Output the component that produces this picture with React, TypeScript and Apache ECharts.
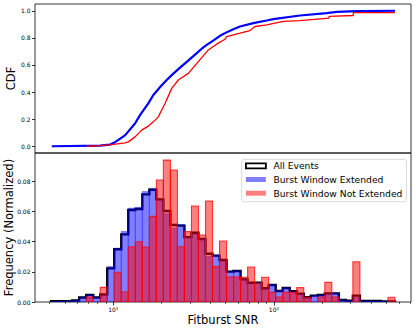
import React, { useEffect, useRef } from 'react';
import * as echarts from 'echarts';

const FONT = 'DejaVu Sans';

// Histogram bin range (log-spaced bins)
const BIN_MIN = 4.1;
const BIN_MAX = 566;

// Normalized frequency per bin
const ALL_EVENTS = [0.0005, 0.0005, 0.0005, 0.0010, 0.0030, 0.0047, 0.0030, 0.0050, 0.0223, 0.0349,
  0.0448, 0.0609, 0.0616, 0.0713, 0.0744, 0.0680, 0.0603, 0.0510, 0.0506, 0.0430,
  0.0459, 0.0417, 0.0320, 0.0307, 0.0278, 0.0201, 0.0205, 0.0150, 0.0128, 0.0128,
  0.0091, 0.0113, 0.0073, 0.0093, 0.0071, 0.0055, 0.0031, 0.0042, 0.0046, 0.0057,
  0.0057, 0.0013, 0.0009, 0.0042, 0.0007, 0.0007, 0.0007, 0.0004, 0.0004];

const EXTENDED = [0.0005, 0.0005, 0.0005, 0.0011, 0.0032, 0.0048, 0.0032, 0.0048, 0.0235, 0.0357,
  0.0468, 0.0622, 0.0627, 0.0732, 0.0753, 0.0673, 0.0585, 0.0491, 0.0513, 0.0428,
  0.0450, 0.0416, 0.0302, 0.0311, 0.0271, 0.0203, 0.0207, 0.0149, 0.0123, 0.0128,
  0.0087, 0.0116, 0.0075, 0.0095, 0.0071, 0.0053, 0.0031, 0.0044, 0.0047, 0.0053,
  0.0058, 0.0014, 0.0009, 0.0030, 0.0007, 0.0007, 0.0007, 0.0004, 0.0003];

const NOT_EXTENDED = [0, 0, 0, 0, 0, 0.0033, 0, 0.0097, 0, 0.0197,
  0.0066, 0.0366, 0.0399, 0.0364, 0.0567, 0.0808, 0.0940, 0.0874, 0.0366, 0.0466,
  0.0636, 0.0444, 0.0669, 0.0234, 0.0404, 0.0166, 0.0166, 0.0163, 0.0232, 0.0124,
  0.0164, 0.0064, 0.0033, 0.0064, 0.0064, 0.0095, 0.0031, 0, 0.0033, 0.0130,
  0.0033, 0, 0, 0.0267, 0, 0, 0, 0, 0.0031];

// CDF curves (SNR, cumulative fraction)
const CDF_EXT_SNR = [4.14, 8.26, 9.54, 10.25, 11.82, 13.65, 14.66, 16.51, 17.74, 20.01, 21.49, 23.09, 26.01, 27.94,
  31.47, 35.49, 38.13, 40.96, 46.13, 49.56, 55.83, 61.44, 74.35, 90.09, 99, 145.1, 212.8, 245.6, 327.1, 566.2];
const CDF_EXT = [0, 0.004, 0.012, 0.03, 0.08, 0.168, 0.23, 0.316, 0.378, 0.45, 0.489, 0.525, 0.58, 0.612,
  0.665, 0.72, 0.748, 0.772, 0.815, 0.835, 0.864, 0.884, 0.909, 0.928, 0.938, 0.965, 0.983, 0.992, 0.998, 1.0];

const CDF_NOT_SNR = [6.83, 8.26, 9.77, 11.82, 12.4, 13.65, 15.02, 16.51, 17.74, 19.05, 20.98, 23.09, 25.38, 29.29,
  33.81, 39.02, 41.91, 45.02, 49.56, 50.78, 61.44, 70.92, 76.19, 90.09, 114.3, 145.1, 220, 220, 311.5, 311.5, 566.2];
const CDF_NOT = [0, 0.004, 0.012, 0.025, 0.032, 0.069, 0.119, 0.148, 0.18, 0.217, 0.316, 0.427, 0.489, 0.538,
  0.625, 0.711, 0.736, 0.761, 0.79, 0.81, 0.835, 0.854, 0.884, 0.896, 0.921, 0.928, 0.946, 0.958, 0.965, 0.987, 0.987];

// Axes (SNR axis is logarithmic)
const X_MIN = 3.256;
const X_MAX = 712;
const X_MAJOR = [10, 100];
const X_MINOR = [4, 5, 6, 7, 8, 9, 20, 30, 40, 50, 60, 70, 80, 90, 200, 300, 400, 500, 600, 700];
const CDF_TICKS = [0, 0.2, 0.4, 0.6, 0.8, 1.0];
const FREQ_TICKS = [0, 0.02, 0.04, 0.06, 0.08];

const lg = Math.log10;
const N_BINS = ALL_EVENTS.length;
const lmin = lg(BIN_MIN);
const lstep = (lg(BIN_MAX) - lmin) / N_BINS;
// bin edges in log10(SNR) space
const EDGES = Array.from({ length: N_BINS + 1 }, (_, k) => lmin + k * lstep);

const binData = (vals: number[]) =>
  vals.map((v, i) => [EDGES[i], EDGES[i + 1], v]).filter((d) => d[2] > 0);

const barRender = (fill: string, stroke: string, lw: number) => (params: any, api: any) => {
  const x0 = api.value(0);
  const x1 = api.value(1);
  const v = api.value(2);
  const p0 = api.coord([x0, v]);
  const p1 = api.coord([x1, 0]);
  return {
    type: 'rect',
    shape: { x: p0[0], y: p0[1], width: p1[0] - p0[0], height: p1[1] - p0[1] },
    style: { fill, stroke, lineWidth: lw },
  };
};

const stepRender = (params: any, api: any) => {
  const pts: number[][] = [];
  pts.push(api.coord([EDGES[0], 0]));
  for (let i = 0; i < N_BINS; i++) {
    pts.push(api.coord([EDGES[i], ALL_EVENTS[i]]));
    pts.push(api.coord([EDGES[i + 1], ALL_EVENTS[i]]));
  }
  pts.push(api.coord([EDGES[N_BINS], 0]));
  return {
    type: 'polyline',
    shape: { points: pts },
    style: { fill: 'none', stroke: '#000', lineWidth: 2.4, lineJoin: 'miter' },
  };
};

const tickLine = { color: '#000', width: 0.8 };
const labelBase = { fontSize: 6, color: '#000', fontFamily: FONT };

export default function App() {
  const ref = useRef<HTMLDivElement>(null);
  useEffect(() => {
    const chart = echarts.init(ref.current!, null, { renderer: 'svg' });
    const xBase = { type: 'value', min: lg(X_MIN), max: lg(X_MAX), position: 'bottom', splitLine: { show: false }, axisLine: { show: false } };
    const gridBase = { left: 35, width: 376, height: 149, show: true, borderColor: '#000', borderWidth: 0.8, containLabel: false, outerBoundsMode: 'none' };
    const option: any = {
      animation: false,
      textStyle: { fontFamily: FONT },
      grid: [
        { ...gridBase, top: 4 },
        { ...gridBase, top: 153 },
      ],
      xAxis: [
        { ...xBase, gridIndex: 0, axisTick: { show: false }, axisLabel: { show: false } },
        {
          ...xBase, gridIndex: 1,
          name: 'Fitburst SNR', nameLocation: 'middle', nameGap: 12, nameMoveOverlap: false,
          nameTextStyle: { fontSize: 11.5, color: '#000', fontFamily: FONT },
          axisTick: { show: true, length: 3.5, customValues: X_MAJOR.map(lg), lineStyle: tickLine },
          axisLabel: {
            customValues: X_MAJOR.map(lg), margin: 4.5,
            formatter: (v: number) => `{b|10}{s|${Math.round(v)}}`,
            rich: {
              b: { fontSize: 6, color: '#000', fontFamily: FONT },
              s: { fontSize: 4.2, color: '#000', fontFamily: FONT, verticalAlign: 'top' },
            },
          },
        },
        {
          ...xBase, gridIndex: 1,
          axisTick: { show: true, length: 2, customValues: X_MINOR.map(lg), lineStyle: { color: '#000', width: 0.6 } },
          axisLabel: { show: false },
        },
      ],
      yAxis: [
        {
          gridIndex: 0, type: 'value', min: -0.05, max: 1.05,
          name: 'CDF', nameLocation: 'middle', nameGap: 18, nameMoveOverlap: false,
          nameTextStyle: { fontSize: 11.5, color: '#000', fontFamily: FONT },
          axisLine: { show: false },
          axisTick: { show: true, length: 3, customValues: CDF_TICKS, lineStyle: tickLine },
          axisLabel: { ...labelBase, customValues: CDF_TICKS, margin: 4.5, formatter: (v: number) => v.toFixed(1) },
          splitLine: { show: false },
        },
        {
          gridIndex: 1, type: 'value', min: 0, max: 0.0987,
          name: 'Frequency (Normalized)', nameLocation: 'middle', nameGap: 20.5, nameMoveOverlap: false,
          nameTextStyle: { fontSize: 11.5, color: '#000', fontFamily: FONT },
          axisLine: { show: false },
          axisTick: { show: true, length: 3, customValues: FREQ_TICKS, lineStyle: tickLine },
          axisLabel: { ...labelBase, customValues: FREQ_TICKS, margin: 4.5, formatter: (v: number) => v.toFixed(2) },
          splitLine: { show: false },
        },
      ],
      legend: {
        orient: 'vertical', left: 241.7, top: 159.3, padding: [1, 4, 3, 3.3], itemGap: 2.7,
        itemWidth: 20, itemHeight: 5, selectedMode: false,
        backgroundColor: 'rgba(255,255,255,0.85)', borderColor: '#d0d0d0', borderWidth: 0.8, borderRadius: 2,
        textStyle: { fontSize: 9.2, lineHeight: 11, color: '#000', fontFamily: FONT, padding: [0, 0, 0, 2.5] },
        data: [
          { name: 'All Events', icon: 'rect', itemStyle: { color: '#fff', borderColor: '#000', borderWidth: 1.8 } },
          { name: 'Burst Window Extended', icon: 'rect', itemStyle: { color: 'rgba(0,0,255,0.5)', borderWidth: 0 } },
          { name: 'Burst Window Not Extended', icon: 'rect', itemStyle: { color: 'rgba(255,0,0,0.5)', borderWidth: 0 } },
        ],
      },
      series: [
        {
          name: 'All Events', type: 'custom', xAxisIndex: 1, yAxisIndex: 1, clip: true,
          renderItem: stepRender, encode: { x: 0, y: 1 }, data: [[EDGES[0], 0]],
          itemStyle: { color: '#000' }, z: 1,
        },
        {
          name: 'Burst Window Extended', type: 'custom', xAxisIndex: 1, yAxisIndex: 1, clip: true,
          renderItem: barRender('rgba(0,0,255,0.5)', 'rgba(0,0,255,0.45)', 0.7),
          encode: { x: [0, 1], y: 2 }, data: binData(EXTENDED),
          itemStyle: { color: 'rgba(0,0,255,0.5)' }, z: 2,
        },
        {
          name: 'Burst Window Not Extended', type: 'custom', xAxisIndex: 1, yAxisIndex: 1, clip: true,
          renderItem: barRender('rgba(255,0,0,0.5)', 'rgba(255,0,0,0.75)', 1.1),
          encode: { x: [0, 1], y: 2 }, data: binData(NOT_EXTENDED),
          itemStyle: { color: 'rgba(255,0,0,0.5)' }, z: 3,
        },
        {
          name: 'CDF Extended', type: 'line', xAxisIndex: 0, yAxisIndex: 0, showSymbol: false, symbol: 'none',
          data: CDF_EXT_SNR.map((s, i) => [lg(s), CDF_EXT[i]]),
          lineStyle: { color: '#0000ff', width: 2.2 }, itemStyle: { color: '#0000ff' }, z: 2,
        },
        {
          name: 'CDF Not Extended', type: 'line', xAxisIndex: 0, yAxisIndex: 0, showSymbol: false, symbol: 'none',
          data: CDF_NOT_SNR.map((s, i) => [lg(s), CDF_NOT[i]]),
          lineStyle: { color: '#ff0000', width: 1.3 }, itemStyle: { color: '#ff0000' }, z: 3,
        },
      ],
    };
    chart.setOption(option);
    return () => chart.dispose();
  }, []);
  return <div ref={ref} style={{ position: 'fixed', left: 0, top: 0, width: 416, height: 331, background: '#fff' }} />;
}
